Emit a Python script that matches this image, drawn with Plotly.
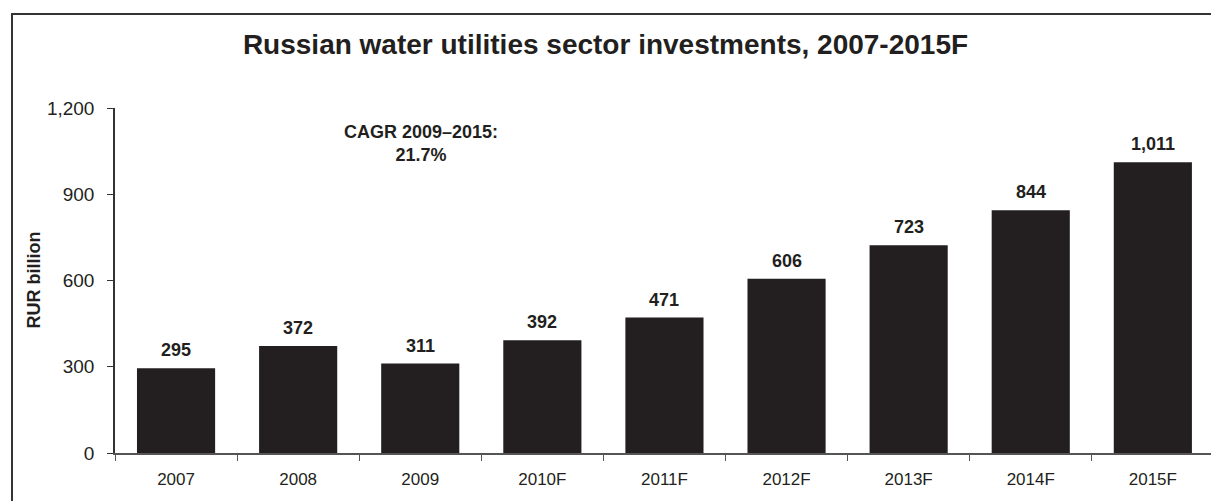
import plotly.graph_objects as go

# Investment series, RUR billion
years = ["2007", "2008", "2009", "2010F", "2011F", "2012F", "2013F", "2014F", "2015F"]
investments = [295, 372, 311, 392, 471, 606, 723, 844, 1011]
y_ticks = [0, 300, 600, 900, 1200]

INK = "#231f20"
FONT = "Liberation Sans, Arial, sans-serif"

W, H = 1211, 501
M_L, M_R, M_T, M_B = 115, 0, 108, 48
plot_w = W - M_L - M_R
plot_h = H - M_T - M_B

fig = go.Figure(
    go.Bar(
        x=years,
        y=investments,
        marker=dict(color=INK, line=dict(width=0)),
        width=0.64,
        hoverinfo="x+y",
    )
)

# Value labels above each bar (positioned by category index)
for i, v in enumerate(investments):
    fig.add_annotation(
        x=i, y=v, text=f"<b>{v:,}</b>", showarrow=False,
        yanchor="bottom", yshift=6,
        font=dict(family=FONT, size=18, color=INK),
    )

# CAGR note
fig.add_annotation(
    x=(421 - M_L) / plot_w, y=(M_T + plot_h - 143) / plot_h,
    xref="paper", yref="paper", showarrow=False,
    text="<b>CAGR 2009–2015:<br>21.7%</b>",
    align="center", xanchor="center", yanchor="middle",
    font=dict(family=FONT, size=18, color=INK),
)

# Axis title
fig.add_annotation(
    x=(33 - M_L) / plot_w, y=0.5, xref="paper", yref="paper",
    showarrow=False, textangle=-90, text="<b>RUR billion</b>",
    xanchor="center", yanchor="middle",
    font=dict(family=FONT, size=18, color=INK),
)

# Outer frame
fig.add_shape(
    type="rect", xref="paper", yref="paper",
    x0=(12 - M_L) / plot_w, x1=1.05,
    y0=-0.3, y1=(M_T + plot_h - 14) / plot_h,
    line=dict(color="#333333", width=2), layer="above",
)

fig.update_layout(
    width=W, height=H,
    margin=dict(l=M_L, r=M_R, t=M_T, b=M_B),
    paper_bgcolor="white", plot_bgcolor="white",
    showlegend=False,
    title=dict(
        text="<b>Russian water utilities sector investments, 2007-2015F</b>",
        x=0.5, xref="container", xanchor="center",
        y=1 - 44 / H, yref="container", yanchor="middle",
        font=dict(family=FONT, size=28, color=INK),
    ),
    xaxis=dict(
        type="category", range=[-0.5, -0.5 + plot_w / 122.1],
        showgrid=False, zeroline=False,
        showline=True, linecolor="#555555", linewidth=1.5,
        ticks="outside", tickson="boundaries", ticklen=6,
        tickcolor="#555555", tickwidth=1.2,
        tickfont=dict(family=FONT, size=17, color=INK),
        ticklabelstandoff=10,
    ),
    yaxis=dict(
        range=[0, 1200], tickvals=y_ticks, tickformat=",",
        showgrid=False, zeroline=False,
        showline=True, linecolor="#333333", linewidth=1.5,
        ticks="outside", ticklen=6, tickcolor="#333333", tickwidth=1.2,
        tickfont=dict(family=FONT, size=19, color=INK),
        ticklabelstandoff=9,
    ),
)

fig.write_html("out.html")
